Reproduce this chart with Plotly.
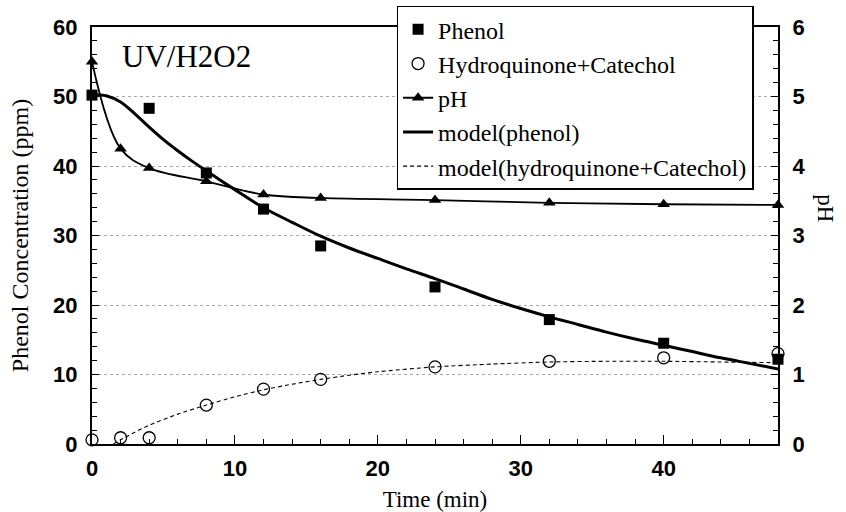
import plotly.graph_objects as go

# ---- data ----
phenol_t = [0, 4, 8, 12, 16, 24, 32, 40, 48]
phenol = [50.2, 48.3, 39.0, 33.8, 28.5, 22.6, 17.9, 14.5, 12.2]

hq_t = [0, 2, 4, 8, 12, 16, 24, 32, 40, 48]
hq = [0.6, 0.9, 0.9, 5.6, 7.9, 9.3, 11.1, 11.9, 12.4, 13.0]

ph_t = [0, 2, 4, 8, 12, 16, 24, 32, 40, 48]
ph = [5.5, 4.25, 3.97, 3.78, 3.59, 3.54, 3.51, 3.47, 3.45, 3.44]

model_phenol_t = [0, 1, 2, 3, 4, 5, 6, 7, 8, 10, 12, 14, 16, 18, 20, 22, 24, 26, 28,
                  30, 32, 34, 36, 38, 40, 42, 44, 46, 48]
model_phenol = [50.3, 50.1, 49.2, 47.5, 45.6, 43.8, 42.2, 40.7, 39.3, 36.6, 34.0, 31.9,
                29.9, 28.2, 26.7, 25.2, 23.8, 22.3, 20.8, 19.5, 18.3, 17.2, 16.1, 15.1,
                14.2, 13.3, 12.4, 11.6, 10.8]

model_hq_t = [1.5, 2, 3, 4, 6, 8, 10, 12, 14, 16, 18, 20, 24, 28, 32, 36, 40, 44, 48]
model_hq = [0, 0.6, 1.7, 2.7, 4.3, 5.6, 6.8, 7.8, 8.6, 9.3, 9.9, 10.4, 11.1, 11.5,
            11.8, 11.9, 11.9, 11.8, 11.7]

SERIF = "Liberation Serif, Times New Roman, serif"
SANS = "Liberation Sans, Arial, sans-serif"
TICKFONT = dict(family=SANS, size=22, color="black", weight="bold")

fig = go.Figure()
fig.add_trace(go.Scatter(x=phenol_t, y=phenol, mode="markers", name="Phenol",
                         marker=dict(symbol="square", size=11, color="black"),
                         cliponaxis=False, legendgroup="a"))
fig.add_trace(go.Scatter(x=hq_t, y=hq, mode="markers", name="Hydroquinone+Catechol",
                         marker=dict(symbol="circle-open", size=12, color="black",
                                     line=dict(width=1.3, color="black")),
                         cliponaxis=False, legendgroup="b"))
fig.add_trace(go.Scatter(x=ph_t, y=ph, mode="lines+markers", name="pH", yaxis="y2",
                         line=dict(color="black", width=1.8, shape="spline", smoothing=1),
                         marker=dict(symbol="triangle-up", size=11, color="black"),
                         cliponaxis=False, legendgroup="c"))
fig.add_trace(go.Scatter(x=model_phenol_t, y=model_phenol, mode="lines", name="model(phenol)",
                         line=dict(color="black", width=3, shape="spline", smoothing=0.9),
                         legendgroup="d"))
fig.add_trace(go.Scatter(x=model_hq_t, y=model_hq, mode="lines",
                         name="model(hydroquinone+Catechol)",
                         line=dict(color="black", width=1.1, dash="4px,3px", shape="spline",
                                   smoothing=0.6),
                         legendgroup="e"))

fig.update_layout(
    width=846, height=512,
    margin=dict(l=92, r=68, t=27, b=68, autoexpand=False),
    paper_bgcolor="white", plot_bgcolor="white",
    showlegend=True,
    legend=dict(x=0.444, y=1.051, xanchor="left", yanchor="top",
                bgcolor="white", bordercolor="black", borderwidth=1.5,
                font=dict(family=SERIF, size=24, color="black"),
                traceorder="grouped", tracegroupgap=0, itemwidth=30),
    xaxis=dict(range=[0, 48], dtick=10, tick0=0, showgrid=False, zeroline=False,
               automargin=False,
               showline=True, linecolor="black", linewidth=2, mirror=True,
               ticks="inside", ticklen=9, tickwidth=1.2, tickcolor="black",
               minor=dict(dtick=2, ticks="inside", ticklen=5, tickwidth=1, tickcolor="black"),
               tickfont=TICKFONT,
               ticklabelstandoff=4,
               title=dict(text="Time (min)", font=dict(family=SERIF, size=23, color="black"),
                          standoff=12)),
    yaxis=dict(range=[0, 60], dtick=10, tick0=0, showgrid=True, gridcolor="#a8a8a8",
               griddash="dot", gridwidth=1, zeroline=False, automargin=False,
               showline=True, linecolor="black", linewidth=2,
               ticks="inside", ticklen=7, tickwidth=1.2, tickcolor="black",
               minor=dict(dtick=2, ticks="inside", ticklen=5, tickwidth=1, tickcolor="black",
                          showgrid=False),
               tickfont=TICKFONT,
               ticklabelstandoff=8,
               title=dict(text="Phenol Concentration (ppm)",
                          font=dict(family=SERIF, size=24, color="black"), standoff=18)),
    yaxis2=dict(range=[0, 6], dtick=1, tick0=0, overlaying="y", side="right",
                automargin=False,
                showgrid=False, zeroline=False, showline=True, linecolor="black", linewidth=2,
                ticks="inside", ticklen=7, tickwidth=1.2, tickcolor="black",
                minor=dict(dtick=0.2, ticks="inside", ticklen=5, tickwidth=1, tickcolor="black",
                           showgrid=False),
                tickfont=TICKFONT,
                ticklabelstandoff=8),
    annotations=[
        dict(text="UV/H2O2", x=0.138, y=0.93, xref="paper", yref="paper",
             xanchor="center", yanchor="middle", showarrow=False,
             font=dict(family=SERIF, size=31, color="black")),
        dict(text="pH", x=1.07, y=0.565, xref="paper", yref="paper",
             xanchor="center", yanchor="middle", showarrow=False, textangle=90,
             font=dict(family=SERIF, size=23, color="black")),
    ],
)

fig.write_html("out.html")
